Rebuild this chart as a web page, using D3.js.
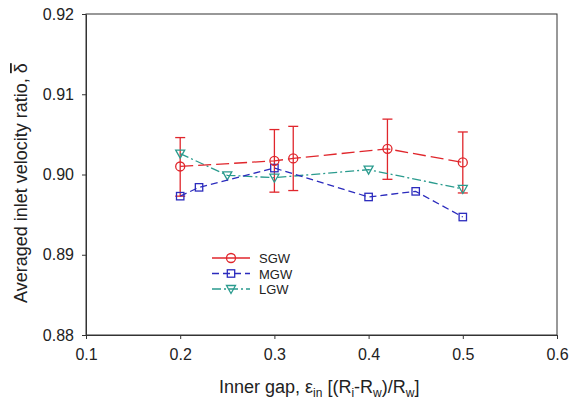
<!DOCTYPE html>
<html>
<head>
<meta charset="utf-8">
<script src="https://cdn.jsdelivr.net/npm/d3@7"></script>
<style>
  body { margin: 0; background: #fff; }
  svg { display: block; font-family: "Liberation Sans", Arial, sans-serif; }
</style>
</head>
<body>
<svg id="chart" width="569" height="400"></svg>
<script>
// DATA
const sgwX = [0.2, 0.3, 0.32, 0.42, 0.5];
const sgwY = [0.9010, 0.9017, 0.9020, 0.9032, 0.9015];
const sgwErrLow = [0.8973, 0.8978, 0.8980, 0.8994, 0.8977];
const sgwErrHigh = [0.9046, 0.9056, 0.9060, 0.9069, 0.9053];

const mgwX = [0.2, 0.22, 0.3, 0.4, 0.45, 0.5];
const mgwY = [0.8973, 0.8984, 0.9008, 0.8972, 0.8979, 0.8947];

const lgwX = [0.2, 0.25, 0.3, 0.4, 0.5];
const lgwY = [0.9026, 0.8999, 0.8996, 0.9006, 0.8982];

const xTicks = [0.1, 0.2, 0.3, 0.4, 0.5, 0.6];
const yTicks = [0.88, 0.89, 0.90, 0.91, 0.92];

// LAYOUT
const svg = d3.select("#chart");
const plotLeft = 86, plotRight = 557, plotTop = 14, plotBottom = 335;

const x = d3.scaleLinear().domain([0.1, 0.6]).range([plotLeft, plotRight]);
const y = d3.scaleLinear().domain([0.88, 0.92]).range([plotBottom, plotTop]);

// Frame
svg.append("rect")
    .attr("x", plotLeft).attr("y", plotTop)
    .attr("width", plotRight - plotLeft).attr("height", plotBottom - plotTop)
    .attr("fill", "none").attr("stroke", "#333").attr("stroke-width", 1);

// Axes
const xAxis = svg.append("g")
    .attr("transform", `translate(0,${plotBottom})`)
    .call(d3.axisBottom(x).tickValues(xTicks).tickFormat(d3.format(".1f")).tickSize(4).tickSizeOuter(0));
const yAxis = svg.append("g")
    .attr("transform", `translate(${plotLeft},0)`)
    .call(d3.axisLeft(y).tickValues(yTicks).tickFormat(d3.format(".2f")).tickSize(4).tickSizeOuter(0));

[xAxis, yAxis].forEach(g => {
    g.select(".domain").attr("stroke", "#333");
    g.selectAll(".tick line").attr("stroke", "#333");
    g.selectAll(".tick text").attr("fill", "#222").style("font-size", "16px")
        .style("font-family", "'Liberation Sans', Arial, sans-serif");
});
xAxis.selectAll(".tick text").attr("dy", "1.15em");
yAxis.selectAll(".tick text").attr("x", -12);

// Axis titles
const xTitle = svg.append("text")
    .attr("x", 219).attr("y", 393)
    .attr("fill", "#222").style("font-size", "18px");
xTitle.append("tspan").text("Inner gap, ε");
xTitle.append("tspan").attr("dy", 4).style("font-size", "12px").text("in");
xTitle.append("tspan").attr("dy", -4).text(" [(R");
xTitle.append("tspan").attr("dy", 4).style("font-size", "12px").text("i");
xTitle.append("tspan").attr("dy", -4).text("-R");
xTitle.append("tspan").attr("dy", 4).style("font-size", "12px").text("w");
xTitle.append("tspan").attr("dy", -4).text(")/R");
xTitle.append("tspan").attr("dy", 4).style("font-size", "12px").text("w");
xTitle.append("tspan").attr("dy", -4).text("]");

const yTitle = svg.append("text")
    .attr("transform", "translate(27,303) rotate(-90)")
    .attr("fill", "#222").style("font-size", "18px");
yTitle.append("tspan").text("Averaged inlet velocity ratio, ");
yTitle.append("tspan").style("text-decoration", "overline").text("δ");

// SERIES
const series = [
    {name: "LGW", xs: lgwX, ys: lgwY, color: "#2a9b8e", dash: "9,3,2,3", marker: "tri"},
    {name: "MGW", xs: mgwX, ys: mgwY, color: "#2b2bbd", dash: "7,4", marker: "square"},
    {name: "SGW", xs: sgwX, ys: sgwY, color: "#e0262c", dash: "13,5", marker: "circle"}
];

const drawMarker = (g, type, cx, cy, color) => {
    if (type === "circle") {
        g.append("circle").attr("cx", cx).attr("cy", cy).attr("r", 4.5)
            .attr("fill", "none").attr("stroke", color).attr("stroke-width", 1.3);
    } else if (type === "square") {
        g.append("rect").attr("x", cx - 3.7).attr("y", cy - 3.7)
            .attr("width", 7.4).attr("height", 7.4)
            .attr("fill", "none").attr("stroke", color).attr("stroke-width", 1.3);
    } else {
        g.append("path")
            .attr("d", `M${cx - 4.5},${cy - 3.5}L${cx + 4.5},${cy - 3.5}L${cx},${cy + 4.5}Z`)
            .attr("fill", "none").attr("stroke", color).attr("stroke-width", 1.3);
    }
};

// Error bars for SGW
const errG = svg.append("g").attr("stroke", "#e0262c").attr("stroke-width", 1.3);
sgwX.forEach((v, i) => {
    const cx = x(v);
    errG.append("line").attr("x1", cx).attr("x2", cx).attr("y1", y(sgwErrLow[i])).attr("y2", y(sgwErrHigh[i]));
    errG.append("line").attr("x1", cx - 5).attr("x2", cx + 5).attr("y1", y(sgwErrLow[i])).attr("y2", y(sgwErrLow[i]));
    errG.append("line").attr("x1", cx - 5).attr("x2", cx + 5).attr("y1", y(sgwErrHigh[i])).attr("y2", y(sgwErrHigh[i]));
});

series.forEach(s => {
    const pts = s.xs.map((v, i) => [x(v), y(s.ys[i])]);
    svg.append("path")
        .attr("d", d3.line()(pts))
        .attr("fill", "none").attr("stroke", s.color)
        .attr("stroke-width", 1.3).attr("stroke-dasharray", s.dash);
    const g = svg.append("g");
    pts.forEach(p => drawMarker(g, s.marker, p[0], p[1], s.color));
});

// LEGEND
const legendItems = ["SGW", "MGW", "LGW"];
const legend = svg.append("g");
legendItems.forEach((name, i) => {
    const s = series.find(d => d.name === name);
    const ly = 258 + i * 15.5;
    legend.append("line").attr("x1", 212).attr("x2", 250).attr("y1", ly).attr("y2", ly)
        .attr("stroke", s.color).attr("stroke-width", 1.3)
        .attr("stroke-dasharray", name === "SGW" ? null : s.dash);
    drawMarker(legend, s.marker, 231, ly, s.color);
    legend.append("text").attr("x", 259).attr("y", ly + 5)
        .attr("fill", "#222").style("font-size", "13px").text(name);
});
</script>
</body>
</html>
